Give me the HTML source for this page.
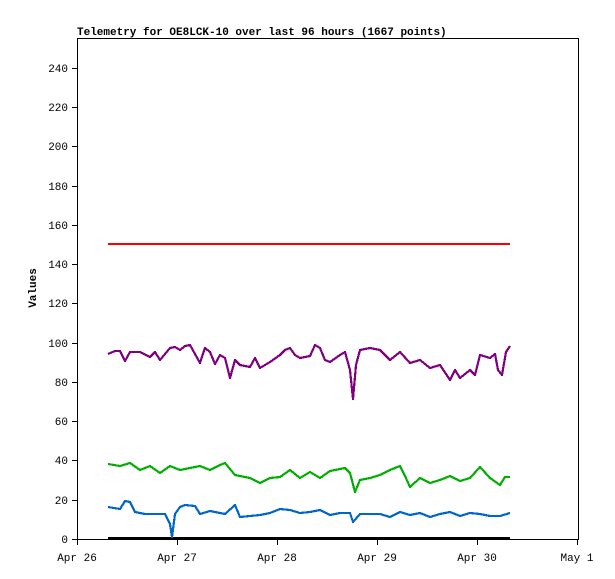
<!DOCTYPE html><html><head><style>body{margin:0;background:#fff}svg{display:block}text{font-family:"Liberation Mono",monospace;font-size:11px}</style></head><body>
<svg width="615" height="579" xmlns="http://www.w3.org/2000/svg">
<rect width="615" height="579" fill="#fff"/>
<text x="77" y="35" font-weight="bold">Telemetry for OE8LCK-10 over last 96 hours (1667 points)</text>
<text transform="translate(36,288) rotate(-90)" text-anchor="middle" font-weight="bold">Values</text>
<g stroke="#000" fill="none" stroke-width="1" shape-rendering="crispEdges">
<rect x="77.5" y="38.5" width="501" height="501"/>
<path d="M72 539.5H77M72 500.5H77M72 460.5H77M72 421.5H77M72 382.5H77M72 343.5H77M72 303.5H77M72 264.5H77M72 225.5H77M72 186.5H77M72 146.5H77M72 107.5H77M72 68.5H77"/>
<path d="M77.5 539V545M177.5 539V545M277.5 539V545M377.5 539V545M477.5 539V545M577.5 539V545"/>
</g>
<g text-anchor="end">
<text x="68" y="543">0</text><text x="68" y="504">20</text><text x="68" y="464">40</text><text x="68" y="425">60</text><text x="68" y="386">80</text><text x="68" y="347">100</text><text x="68" y="307">120</text><text x="68" y="268">140</text><text x="68" y="229">160</text><text x="68" y="190">180</text><text x="68" y="150">200</text><text x="68" y="111">220</text><text x="68" y="72">240</text>
</g>
<g text-anchor="middle">
<text x="77" y="561">Apr 26</text><text x="177" y="561">Apr 27</text><text x="277" y="561">Apr 28</text><text x="377" y="561">Apr 29</text><text x="477" y="561">Apr 30</text><text x="577" y="561">May 1</text>
</g>
<g fill="none" stroke-width="2.2" stroke-linejoin="round" shape-rendering="crispEdges">
<path stroke="#ff0000" stroke-width="2" d="M108 244H510"/>
<path stroke="#000" stroke-width="2" d="M108 538H510"/>
<polyline stroke="#800080" points="108,354 115,351 120,351 125,361 130,352 140,352 150,357 155,352 160,360 170,348 175,347 180,350 185,346 190,345 195,354 200,363 205,348 210,352 215,364 220,355 225,358 230,378 235,360 240,365 250,367 255,358 260,368 270,362 280,355 285,350 290,348 295,355 300,358 310,356 315,345 320,348 325,360 330,362 340,355 345,352 350,370 353,399 356,365 360,350 370,348 380,350 390,360 400,352 410,363 420,360 430,368 440,365 450,380 455,370 460,378 470,370 475,375 480,355 490,358 495,354 498,370 502,375 506,352 510,346"/>
<polyline stroke="#00b000" points="108,464 120,466 130,463 140,470 150,466 160,473 170,466 180,470 190,468 200,466 210,470 220,465 225,463 235,475 250,478 260,483 270,478 280,477 290,470 300,478 310,472 320,478 330,471 345,468 350,473 355,492 360,480 370,478 380,475 390,470 400,466 405,476 410,487 420,478 430,483 440,480 450,476 460,481 470,478 480,467 490,478 500,485 505,477 510,477"/>
<polyline stroke="#0066cc" points="108,507 120,509 125,501 130,502 135,512 145,514 155,514 165,514 170,524 172,537 175,514 180,507 185,505 195,506 200,514 210,511 225,514 235,505 240,517 250,516 260,515 270,513 280,509 290,510 300,513 310,512 320,510 330,515 340,513 350,513 353,522 360,514 380,514 390,517 400,512 410,515 420,513 430,517 440,514 450,512 460,516 470,513 480,514 490,516 500,516 510,513"/>
</g>
</svg></body></html>
